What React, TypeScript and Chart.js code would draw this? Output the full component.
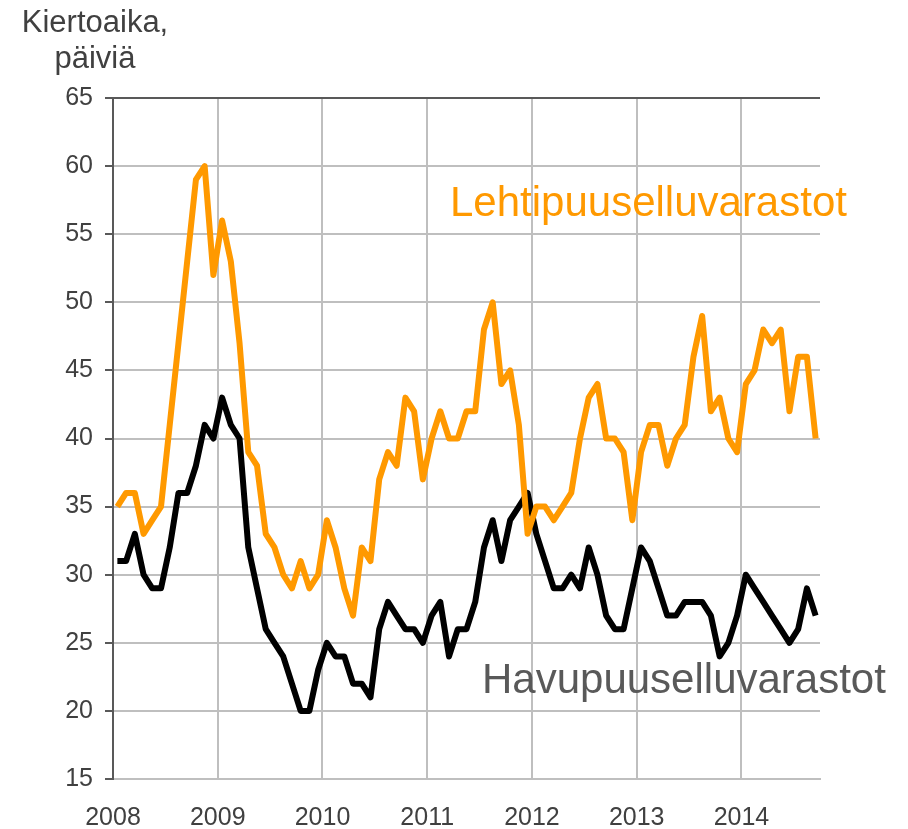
import React, { useEffect, useRef } from 'react';
import { Chart, registerables } from 'chart.js';

Chart.register(...registerables);

// Year tick labels (one tick at the start of each year)
const yearLabels = ['2008', '2009', '2010', '2011', '2012', '2013', '2014'];

// Monthly values, Jan 2008 – Sep 2014 (days)
const lehtipuu = [
  35, 36, 36, 33, 34, 35, 41, 47, 53, 59, 60, 52,
  56, 53, 47, 39, 38, 33, 32, 30, 29, 31, 29, 30,
  34, 32, 29, 27, 32, 31, 37, 39, 38, 43, 42, 37,
  40, 42, 40, 40, 42, 42, 48, 50, 44, 45, 41, 33,
  35, 35, 34, 35, 36, 40, 43, 44, 40, 40, 39, 34,
  39, 41, 41, 38, 40, 41, 46, 49, 42, 43, 40, 39,
  44, 45, 48, 47, 48, 42, 46, 46, 40,
];

const havupuu = [
  31, 31, 33, 30, 29, 29, 32, 36, 36, 38, 41, 40,
  43, 41, 40, 32, 29, 26, 25, 24, 22, 20, 20, 23,
  25, 24, 24, 22, 22, 21, 26, 28, 27, 26, 26, 25,
  27, 28, 24, 26, 26, 28, 32, 34, 31, 34, 35, 36,
  33, 31, 29, 29, 30, 29, 32, 30, 27, 26, 26, 29,
  32, 31, 29, 27, 27, 28, 28, 28, 27, 24, 25, 27,
  30, 29, 28, 27, 26, 25, 26, 29, 27,
];

const yTitleLines = ['Kiertoaika,', 'päiviä'];
const lehtiLabel = 'Lehtipuuselluvarastot';
const havuLabel = 'Havupuuselluvarastot';

const ORANGE = '#FF9900';
const BLACK = '#000000';
const DARK = '#595959';
const GRID = '#BFBFBF';
const TEXT = '#404040';
const FONT = '"Liberation Sans", Arial, sans-serif';

// monthly points sit in the middle of each month on a month-index axis
const toPoints = (arr: number[]) => arr.map((v, i) => ({ x: i + 0.5, y: v }));

const textPlugin = {
  id: 'chartTexts',
  afterDraw(chart: any) {
    const ctx = chart.ctx as CanvasRenderingContext2D;
    ctx.save();
    ctx.textBaseline = 'alphabetic';
    ctx.font = `31px ${FONT}`;
    ctx.fillStyle = TEXT;
    ctx.textAlign = 'center';
    ctx.fillText(yTitleLines[0], 95, 32);
    ctx.fillText(yTitleLines[1], 95, 68);

    ctx.textAlign = 'left';
    ctx.font = `42px ${FONT}`;
    ctx.fillStyle = ORANGE;
    ctx.fillText(lehtiLabel, 450, 216);
    ctx.fillStyle = DARK;
    ctx.fillText(havuLabel, 482, 693);
    ctx.restore();
  },
};

export default function App() {
  const canvasRef = useRef<HTMLCanvasElement | null>(null);

  useEffect(() => {
    if (!canvasRef.current) return;
    const chart = new Chart(canvasRef.current, {
      type: 'line',
      data: {
        datasets: [
          {
            label: lehtiLabel,
            data: toPoints(lehtipuu),
            borderColor: ORANGE,
            backgroundColor: ORANGE,
            borderWidth: 6,
            pointRadius: 0,
            tension: 0,
            borderJoinStyle: 'round',
            fill: false,
          },
          {
            label: havuLabel,
            data: toPoints(havupuu),
            borderColor: BLACK,
            backgroundColor: BLACK,
            borderWidth: 6,
            pointRadius: 0,
            tension: 0,
            borderJoinStyle: 'round',
            fill: false,
          },
        ],
      },
      options: {
        responsive: false,
        maintainAspectRatio: false,
        devicePixelRatio: 1,
        animation: false,
        layout: { padding: { top: 98, right: 88, left: 0, bottom: 0 } },
        plugins: {
          legend: { display: false },
          tooltip: { enabled: false },
          title: { display: false },
        },
        scales: {
          x: {
            type: 'linear',
            min: 0,
            max: lehtipuu.length,
            afterBuildTicks: (scale: any) => {
              scale.ticks = yearLabels.map((_, k) => ({ value: k * 12 }));
            },
            afterFit: (scale: any) => {
              scale.height = 50;
            },
            ticks: {
              autoSkip: false,
              maxRotation: 0,
              padding: 24,
              color: TEXT,
              font: { family: FONT, size: 25 },
              callback: (_v: any, index: number) => yearLabels[index],
            },
            grid: {
              color: (ctx: any) => (ctx.tick && ctx.tick.value === 0 ? DARK : GRID),
              lineWidth: 2,
              drawTicks: false,
            },
            border: { display: true, color: GRID, width: 2 },
          },
          y: {
            min: 15,
            max: 65,
            afterFit: (scale: any) => {
              scale.width = 113;
            },
            ticks: {
              stepSize: 5,
              padding: 12,
              color: TEXT,
              font: { family: FONT, size: 25 },
            },
            grid: {
              color: (ctx: any) => (ctx.tick && ctx.tick.value === 65 ? DARK : GRID),
              lineWidth: 2,
              tickLength: 8,
              tickColor: DARK,
            },
            border: { display: true, color: DARK, width: 2 },
          },
        },
      },
      plugins: [textPlugin],
    } as any);
    return () => chart.destroy();
  }, []);

  return (
    <div style={{ position: 'absolute', left: 0, top: 0, width: 908, height: 829 }}>
      <canvas ref={canvasRef} width={908} height={829} style={{ display: 'block' }} />
    </div>
  );
}
